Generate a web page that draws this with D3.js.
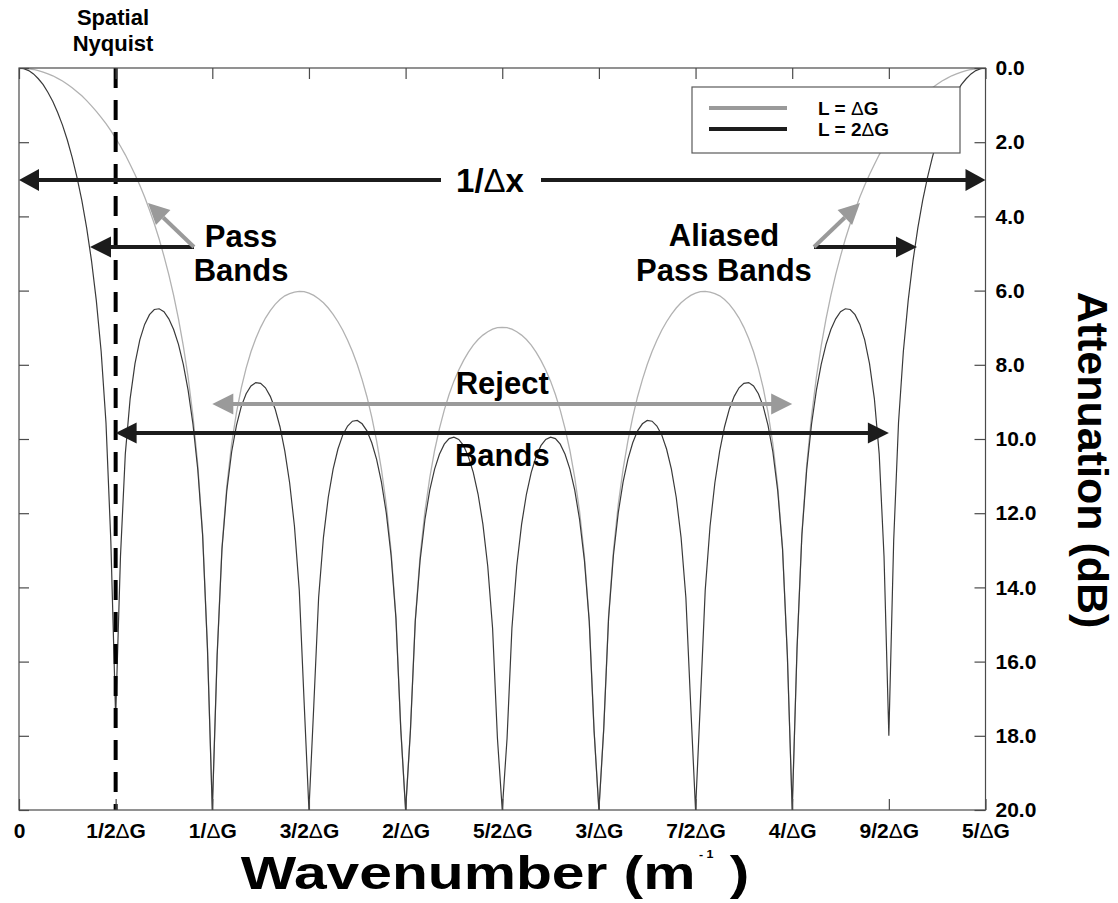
<!DOCTYPE html>
<html>
<head>
<meta charset="utf-8">
<script src="https://cdn.jsdelivr.net/npm/d3@7"></script>
<style>
  html, body { margin: 0; padding: 0; background: #ffffff; }
  svg { display: block; font-family: "Liberation Sans", Arial, Helvetica, sans-serif; }
</style>
</head>
<body>
<svg id="chart" width="1118" height="903"></svg>
<script>
// Wavenumber samples are spaced evenly from 0 to 5/ΔG.
const sampleStep = 0.025;

// Attenuation (dB) for an array of length L = ΔG.
const grayAtten = [
  0.00, 0.01, 0.02, 0.04, 0.07, 0.11, 0.16, 0.21, 0.28, 0.35, 0.44,
  0.53, 0.64, 0.75, 0.88, 1.02, 1.17, 1.33, 1.50, 1.69, 1.89,
  2.11, 2.34, 2.60, 2.87, 3.16, 3.48, 3.83, 4.20, 4.61, 5.07,
  5.57, 6.13, 6.76, 7.49, 8.34, 9.38, 10.70, 12.55, 15.64, 20.00,
  15.83, 12.92, 11.27, 10.13, 9.29, 8.62, 8.09, 7.65, 7.29, 6.99,
  6.74, 6.54, 6.37, 6.24, 6.14, 6.08, 6.04, 6.02, 6.03, 6.07,
  6.13, 6.22, 6.33, 6.47, 6.64, 6.84, 7.07, 7.34, 7.64, 7.99,
  8.40, 8.86, 9.41, 10.05, 10.82, 11.77, 13.02, 14.78, 17.80, 20.00,
  17.85, 14.87, 13.15, 11.95, 11.04, 10.31, 9.72, 9.22, 8.80, 8.44,
  8.14, 7.88, 7.66, 7.47, 7.32, 7.20, 7.11, 7.04, 7.00, 6.99,
  7.00, 7.04, 7.11, 7.20, 7.32, 7.47, 7.66, 7.88, 8.14,
  8.44, 8.80, 9.22, 9.72, 10.31, 11.04, 11.95, 13.15, 14.87, 17.85,
  20.00, 17.80, 14.78, 13.02, 11.77, 10.82, 10.05, 9.41, 8.86, 8.40,
  7.99, 7.64, 7.34, 7.07, 6.84, 6.64, 6.47, 6.33, 6.22, 6.13,
  6.07, 6.03, 6.02, 6.04, 6.08, 6.14, 6.24, 6.37, 6.54, 6.74,
  6.99, 7.29, 7.65, 8.09, 8.62, 9.29, 10.13, 11.27, 12.92, 15.83,
  20.00, 15.64, 12.55, 10.70, 9.38, 8.34, 7.49, 6.76, 6.13, 5.57,
  5.07, 4.61, 4.20, 3.83, 3.48, 3.16, 2.87, 2.60, 2.34, 2.11,
  1.89, 1.69, 1.50, 1.33, 1.17, 1.02, 0.88, 0.75, 0.64, 0.53,
  0.44, 0.35, 0.28, 0.21, 0.16, 0.11, 0.07, 0.04, 0.02, 0.01, 0.00
];

// Attenuation (dB) for an array of length L = 2ΔG.
const blackAtten = [
  0.00, 0.02, 0.07, 0.16, 0.29, 0.45, 0.66, 0.90, 1.20, 1.54, 1.94,
  2.41, 2.95, 3.57, 4.31, 5.19, 6.27, 7.64, 9.56, 12.74, 17.50,
  13.16, 10.40, 8.91, 7.97, 7.33, 6.91, 6.65, 6.51, 6.49, 6.57,
  6.76, 7.05, 7.45, 7.99, 8.69, 9.60, 10.83, 12.60, 15.65, 20.00,
  15.84, 12.97, 11.39, 10.35, 9.63, 9.12, 8.78, 8.57, 8.48, 8.50,
  8.62, 8.85, 9.19, 9.67, 10.32, 11.18, 12.35, 14.08, 17.09, 20.00,
  17.19, 14.28, 12.65, 11.57, 10.81, 10.27, 9.89, 9.65, 9.52, 9.50,
  9.59, 9.78, 10.10, 10.55, 11.16, 11.99, 13.14, 14.84, 17.82, 20.00,
  17.86, 14.92, 13.27, 12.17, 11.38, 10.81, 10.41, 10.14, 9.99, 9.95,
  10.01, 10.18, 10.48, 10.90, 11.49, 12.30, 13.43, 15.10, 18.06, 20.00,
  18.06, 15.10, 13.43, 12.30, 11.49, 10.90, 10.48, 10.18, 10.01,
  9.95, 9.99, 10.14, 10.41, 10.81, 11.38, 12.17, 13.27, 14.92, 17.86,
  20.00, 17.82, 14.84, 13.14, 11.99, 11.16, 10.55, 10.10, 9.78, 9.59,
  9.50, 9.52, 9.65, 9.89, 10.27, 10.81, 11.57, 12.65, 14.28, 17.19,
  20.00, 17.09, 14.08, 12.35, 11.18, 10.32, 9.67, 9.19, 8.85, 8.62,
  8.50, 8.48, 8.57, 8.78, 9.12, 9.63, 10.35, 11.39, 12.97, 15.84,
  20.00, 15.65, 12.60, 10.83, 9.60, 8.69, 7.99, 7.45, 7.05, 6.76,
  6.57, 6.49, 6.51, 6.65, 6.91, 7.33, 7.97, 8.91, 10.40, 13.16,
  18.00, 12.74, 9.56, 7.64, 6.27, 5.19, 4.31, 3.57, 2.95, 2.41,
  1.94, 1.54, 1.20, 0.90, 0.66, 0.45, 0.29, 0.16, 0.07, 0.02, 0.00
];

const xTickValues = [0, 0.5, 1, 1.5, 2, 2.5, 3, 3.5, 4, 4.5, 5];
const xTickLabels = ["0", "1/2ΔG", "1/ΔG", "3/2ΔG", "2/ΔG", "5/2ΔG",
                     "3/ΔG", "7/2ΔG", "4/ΔG", "9/2ΔG", "5/ΔG"];
const yTickValues = [0, 2, 4, 6, 8, 10, 12, 14, 16, 18, 20];

const legendLabels = ["L = ΔG", "L = 2ΔG"];
const nyquistK = 0.5;

// ---------------------------------------------------------------
const svg = d3.select("#chart");
const FONT_BOLD = 700;

const x = d3.scaleLinear().domain([0, 5]).range([19, 985.5]);
const y = d3.scaleLinear().domain([0, 20]).range([68, 810]);

const colGrayCurve = "#b2b2b2";
const colBlackCurve = "#3a3a3a";
const colGrayArrow = "#9a9a9a";
const colBlackArrow = "#1c1c1c";
const colFrame = "#4a4a4a";

// Writes a label, with the Δ glyph in a lighter weight.
function richText(sel, str) {
  const parts = str.split("Δ");
  parts.forEach((p, i) => {
    if (i > 0) sel.append("tspan").attr("font-weight", 400).text("Δ");
    if (p.length) sel.append("tspan").text(p);
  });
}

svg.append("defs").append("clipPath").attr("id", "plotClip")
  .append("rect")
  .attr("x", x(0)).attr("y", y(0))
  .attr("width", x(5) - x(0)).attr("height", y(20) - y(0));

// Curves
const line = d3.line()
  .x((d, i) => x(i * sampleStep))
  .y(d => y(d));

const curves = svg.append("g").attr("clip-path", "url(#plotClip)");
curves.append("path").datum(grayAtten)
  .attr("d", line).attr("fill", "none")
  .attr("stroke", colGrayCurve).attr("stroke-width", 1.3);
curves.append("path").datum(blackAtten)
  .attr("d", line).attr("fill", "none")
  .attr("stroke", colBlackCurve).attr("stroke-width", 1.2);

// Spatial Nyquist marker
svg.append("line")
  .attr("x1", x(nyquistK)).attr("x2", x(nyquistK))
  .attr("y1", y(0)).attr("y2", y(20))
  .attr("stroke", "#000").attr("stroke-width", 4)
  .attr("stroke-dasharray", "20 12");

const nyq = svg.append("text")
  .attr("text-anchor", "middle").attr("font-size", 22).attr("font-weight", FONT_BOLD);
nyq.append("tspan").attr("x", 113).attr("y", 25).text("Spatial");
nyq.append("tspan").attr("x", 113).attr("y", 51).text("Nyquist");

// Axes: ticks point into the plot on all four sides
const axisBottom = d3.axisBottom(x).tickValues(xTickValues)
  .tickSizeInner(-11).tickSizeOuter(0).tickPadding(13)
  .tickFormat((d, i) => xTickLabels[i]);
const gB = svg.append("g").attr("transform", `translate(0,${y(20)})`).call(axisBottom);

const axisTop = d3.axisTop(x).tickValues(xTickValues)
  .tickSizeInner(-11).tickSizeOuter(0).tickFormat("");
const gT = svg.append("g").attr("transform", `translate(0,${y(0)})`).call(axisTop);

const axisRight = d3.axisRight(y).tickValues(yTickValues)
  .tickSizeInner(-11).tickSizeOuter(0).tickPadding(10)
  .tickFormat(d3.format(".1f"));
const gR = svg.append("g").attr("transform", `translate(${x(5)},0)`).call(axisRight);

const axisLeft = d3.axisLeft(y).tickValues(yTickValues)
  .tickSizeInner(-10).tickSizeOuter(0).tickFormat("");
const gL = svg.append("g").attr("transform", `translate(${x(0)},0)`).call(axisLeft);

[gB, gT, gR, gL].forEach(g => {
  g.select(".domain").remove();
  g.selectAll(".tick line").attr("stroke", colFrame).attr("stroke-width", 1.2);
  g.selectAll(".tick text")
    .attr("font-family", "Liberation Sans, Arial, sans-serif")
    .attr("font-size", 21).attr("font-weight", FONT_BOLD).attr("fill", "#000");
});
gB.selectAll(".tick text").each(function () {
  const t = d3.select(this);
  const s = t.text();
  t.text(null);
  richText(t, s);
});

// Plot frame
svg.append("rect")
  .attr("x", x(0)).attr("y", y(0))
  .attr("width", x(5) - x(0)).attr("height", y(20) - y(0))
  .attr("fill", "none").attr("stroke", colFrame).attr("stroke-width", 1.2);

// Axis titles (the wavenumber title is set wide)
const xTitle = svg.append("text")
  .attr("transform", "translate(495,889) scale(1.25,1)")
  .attr("text-anchor", "middle")
  .attr("font-size", 47).attr("font-weight", FONT_BOLD);
xTitle.append("tspan").text("Wavenumber (m");
xTitle.append("tspan").attr("font-size", 10).attr("dy", -31).text(" - 1");
xTitle.append("tspan").attr("font-size", 47).attr("dy", 31).text(" )");

svg.append("text")
  .attr("transform", "translate(1093,460) rotate(90)")
  .attr("text-anchor", "middle").attr("dy", "0.36em")
  .attr("font-size", 43).attr("font-weight", FONT_BOLD)
  .text("Attenuation (dB)");

// Arrow helpers
function arrowHead(g, tipX, tipY, fromX, fromY, color, len, wid) {
  const a = Math.atan2(tipY - fromY, tipX - fromX);
  const bx = tipX - len * Math.cos(a), by = tipY - len * Math.sin(a);
  const px = -Math.sin(a) * wid / 2, py = Math.cos(a) * wid / 2;
  g.append("path")
    .attr("d", `M${tipX},${tipY}L${bx + px},${by + py}L${bx - px},${by - py}Z`)
    .attr("fill", color);
  return [bx, by];
}
function arrow(x1, y1, x2, y2, color, len = 21, wid = 21, w = 4) {
  const g = svg.append("g");
  const [bx, by] = arrowHead(g, x2, y2, x1, y1, color, len, wid);
  g.insert("line", "path").attr("x1", x1).attr("y1", y1).attr("x2", bx).attr("y2", by)
    .attr("stroke", color).attr("stroke-width", w);
}
function doubleArrow(x1, x2, yy, color, len = 21, wid = 21, w = 4) {
  const g = svg.append("g");
  g.append("line").attr("x1", x1 + len - 1).attr("x2", x2 - len + 1)
    .attr("y1", yy).attr("y2", yy).attr("stroke", color).attr("stroke-width", w);
  arrowHead(g, x1, yy, x2, yy, color, len, wid);
  arrowHead(g, x2, yy, x1, yy, color, len, wid);
}

// 1/Δx span
doubleArrow(x(0), x(5), 180, colBlackArrow, 20, 22);
svg.append("rect").attr("x", 441).attr("y", 163).attr("width", 100).attr("height", 34).attr("fill", "#fff");
const dx = svg.append("text").attr("x", 490).attr("y", 192).attr("text-anchor", "middle")
  .attr("font-size", 33).attr("font-weight", FONT_BOLD);
richText(dx, "1/Δx");

// Pass bands
arrow(194, 247, 90, 247, colBlackArrow);
arrow(194, 247, 148, 203, colGrayArrow);
const pb = svg.append("text").attr("text-anchor", "middle")
  .attr("font-size", 31).attr("font-weight", FONT_BOLD);
pb.append("tspan").attr("x", 241).attr("y", 247).text("Pass");
pb.append("tspan").attr("x", 241).attr("y", 281).text("Bands");

// Aliased pass bands
arrow(814, 247, 917, 247, colBlackArrow);
arrow(814, 247, 860, 203, colGrayArrow);
const apb = svg.append("text").attr("text-anchor", "middle")
  .attr("font-size", 31).attr("font-weight", FONT_BOLD);
apb.append("tspan").attr("x", 724).attr("y", 246).text("Aliased");
apb.append("tspan").attr("x", 724).attr("y", 281).text("Pass Bands");

// Reject bands
doubleArrow(x(1), x(4), 404, colGrayArrow);
doubleArrow(x(0.5), x(4.5), 433, colBlackArrow);
svg.append("text").attr("x", x(2.5)).attr("y", 394).attr("text-anchor", "middle")
  .attr("font-size", 31).attr("font-weight", FONT_BOLD).text("Reject");
svg.append("text").attr("x", x(2.5)).attr("y", 466).attr("text-anchor", "middle")
  .attr("font-size", 31).attr("font-weight", FONT_BOLD).text("Bands");

// Legend
const lg = svg.append("g");
lg.append("rect").attr("x", 692).attr("y", 87).attr("width", 268).attr("height", 66)
  .attr("fill", "#fff").attr("stroke", "#5a5a5a").attr("stroke-width", 1.2);
const legendColors = [colGrayArrow, colBlackArrow];
legendLabels.forEach((lab, i) => {
  const ly = 108 + i * 21;
  lg.append("line").attr("x1", 709).attr("x2", 787).attr("y1", ly).attr("y2", ly)
    .attr("stroke", legendColors[i]).attr("stroke-width", 4);
  const t = lg.append("text").attr("x", 818).attr("y", ly + 7)
    .attr("font-size", 19).attr("font-weight", FONT_BOLD);
  richText(t, lab);
});
</script>
</body>
</html>
